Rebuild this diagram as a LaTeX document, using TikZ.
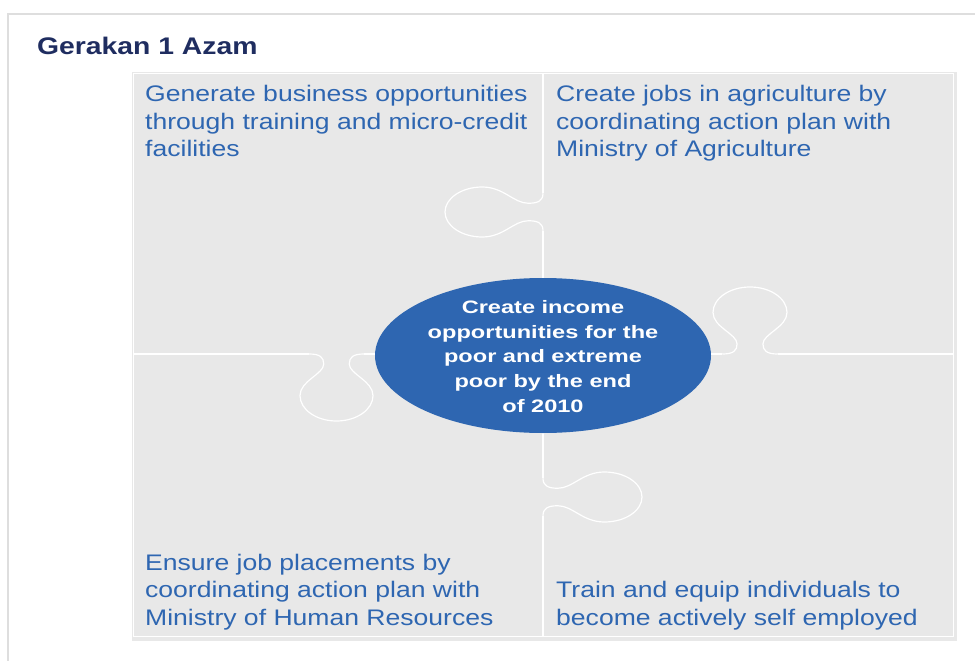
\documentclass[tikz,border=0pt]{standalone}
\usepackage{fontspec}
\setmainfont{Liberation Sans}
\newfontfamily\bodyfont[FakeStretch=1.18]{Liberation Sans}
\newfontfamily\goalfont[FakeStretch=1.31]{Liberation Sans}
\usetikzlibrary{shapes.geometric}
\definecolor{azamblue}{RGB}{46,102,177}
\definecolor{azamnavy}{RGB}{31,45,96}
\definecolor{piecegray}{RGB}{232,232,232}
\definecolor{framegray}{RGB}{222,222,222}
\begin{document}
\begin{tikzpicture}[x=1pt,y=-1pt,
    seam/.style={white,line width=1.2pt},
    aim/.style={anchor=base west,inner sep=0pt,align=left,text=azamblue,
      font=\bodyfont\fontsize{22.5}{27.5}\selectfont}]
  \useasboundingbox (0,0) rectangle (975,661);
  \draw[framegray,line width=1.5pt] (8,661) -- (8,14) -- (975,14);
  \node[anchor=base west,inner sep=0pt,text=azamnavy,
    font=\bodyfont\bfseries\fontsize{24}{28}\selectfont] (title) at (37,54.3) {Gerakan 1 Azam};
  % the four pieces
  \fill[piecegray] (132,72) rectangle (957,641);
  \draw[white,line width=0.8pt] (133,73) rectangle (953,636);
  \draw[seam] (543,73) -- (543,193.25) (543,230.75) -- (543,478.25) (543,515.75) -- (543,636);
  \draw[seam] (133,354) -- (309.1,354) (363.9,354) -- (722.25,354) (777.75,354) -- (953,354);
  % tabs: centre / along seam / depth
  \foreach \cx/\cy/\ux/\uy/\vx/\vy in {543/212/0/25/-98/0, 543/497/0/25/99/0,
      336.5/354/36.5/0/0/-67, 750/354/37/0/0/67}
  {
    \begin{scope}[shift={(\cx,\cy)},x={(\ux pt,\uy pt)},y={(\vx pt,\vy pt)}]
      \draw[seam] (-0.75,0) .. controls (-0.45,0) and (-0.35,0.05) .. (-0.35,0.15)
        .. controls (-0.35,0.3) and (-1,0.4) .. (-1,0.62)
        .. controls (-1,0.83) and (-0.55,1) .. (0,1)
        .. controls (0.55,1) and (1,0.83) .. (1,0.62)
        .. controls (1,0.4) and (0.35,0.3) .. (0.35,0.15)
        .. controls (0.35,0.05) and (0.45,0) .. (0.75,0);
    \end{scope}
  }
  % texts sit on the baseline of their last line
  \node[aim] (business) at (145,156.7) {Generate business opportunities\\through training and micro-credit\\facilities};
  \node[aim] (agriculture) at (556,156.7) {Create jobs in agriculture by\\coordinating action plan with\\Ministry of Agriculture};
  \node[aim] (placement) at (145,625) {Ensure job placements by\\coordinating action plan with\\Ministry of Human Resources};
  \node[aim] (selfemploy) at (556,625) {Train and equip individuals to\\become actively self employed};
  % centre goal
  \node[ellipse,fill=azamblue,minimum width=336pt,minimum height=155pt,inner sep=0pt] (goal) at (543,355.5) {};
  \node[align=center,inner sep=0pt,text=white,
    font=\goalfont\bfseries\fontsize{18}{24.75}\selectfont] (goaltext) at ([yshift=-1pt]goal.center)
    {Create income\\opportunities for the\\poor and extreme\\poor by the end\\of 2010};
\end{tikzpicture}
\end{document}
